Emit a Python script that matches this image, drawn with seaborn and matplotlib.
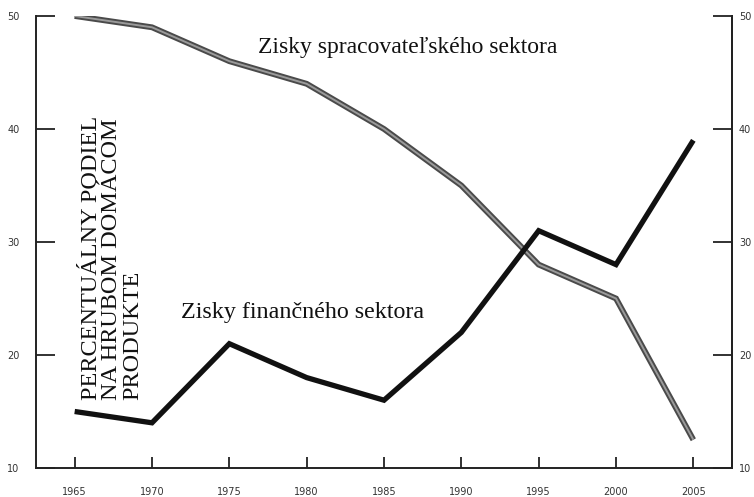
import numpy as np
import pandas as pd
import matplotlib
matplotlib.use("Agg")
import matplotlib.pyplot as plt
import seaborn as sns

# -------------------------------
# DATA
# -------------------------------
years = [1965, 1970, 1975, 1980, 1985, 1990, 1995, 2000, 2005]
manufacturing = [50, 49, 46, 44, 40, 35, 28, 25, 12.5]
finance = [15, 14, 21, 18, 16, 22, 31, 28, 39]
y_ticks = [10, 20, 30, 40, 50]

df = pd.DataFrame({"rok": years, "spracovatelsky": manufacturing, "financny": finance})

sns.set_style("white")
plt.rcParams["font.family"] = ["DejaVu Sans"]

fig = plt.figure(figsize=(7.54, 4.97), dpi=100)
ax = fig.add_axes([36 / 754, 1 - 468 / 497, (732 - 36) / 754, (468 - 16) / 497])

# manufacturing: dark outline with lighter core
sns.lineplot(data=df, x="rok", y="spracovatelsky", ax=ax, color="#4a4a4a", lw=4.2,
             solid_capstyle="butt", solid_joinstyle="miter")
sns.lineplot(data=df, x="rok", y="spracovatelsky", ax=ax, color="#9a9a9a", lw=1.4,
             solid_capstyle="butt", solid_joinstyle="miter")
# finance
sns.lineplot(data=df, x="rok", y="financny", ax=ax, color="#111111", lw=3.8,
             solid_capstyle="butt", solid_joinstyle="miter")

ax.set_xlim(1962.5, 2007.5)
ax.set_ylim(10, 50)
ax.set_xticks(years)
ax.set_yticks(y_ticks)
ax.set_xlabel("")
ax.set_ylabel("")

for side in ["left", "right", "bottom"]:
    ax.spines[side].set_visible(True)
    ax.spines[side].set_color("#222222")
    ax.spines[side].set_linewidth(1.4)
ax.spines["top"].set_visible(False)

ax.tick_params(axis="x", direction="in", length=8, width=1.3, color="#222222",
               bottom=True, pad=14, labelsize=7, labelcolor="#333333")
ax.tick_params(axis="y", direction="in", length=14, width=1.3, color="#222222",
               left=True, right=False, labelleft=True, pad=12, labelsize=7,
               labelcolor="#333333")

# right-hand axis with the same scale
ax2 = ax.twinx()
ax2.set_ylim(10, 50)
ax2.set_yticks(y_ticks)
for side in ["left", "top", "bottom"]:
    ax2.spines[side].set_visible(False)
ax2.spines["right"].set_color("#222222")
ax2.spines["right"].set_linewidth(1.4)
ax2.tick_params(axis="y", direction="in", length=14, width=1.3, color="#222222",
                right=True, labelright=True, pad=5, labelsize=7, labelcolor="#333333")

ax.text(0.064, 0.465, "PERCENTUÁLNY PODIEL\nNA HRUBOM DOMÁCOM\nPRODUKTE",
        transform=ax.transAxes, rotation=90, ha="left", va="center",
        family="Liberation Serif", fontsize=17.5, linespacing=0.98, color="#111111")
ax.text(1986.5, 47.2, "Zisky spracovateľského sektora", ha="center", va="center",
        family="Liberation Serif", fontsize=17, color="#111111")
ax.text(1971.9, 23.8, "Zisky finančného sektora", ha="left", va="center",
        family="Liberation Serif", fontsize=17.3, color="#111111")

fig.savefig("out.png", dpi=100)
